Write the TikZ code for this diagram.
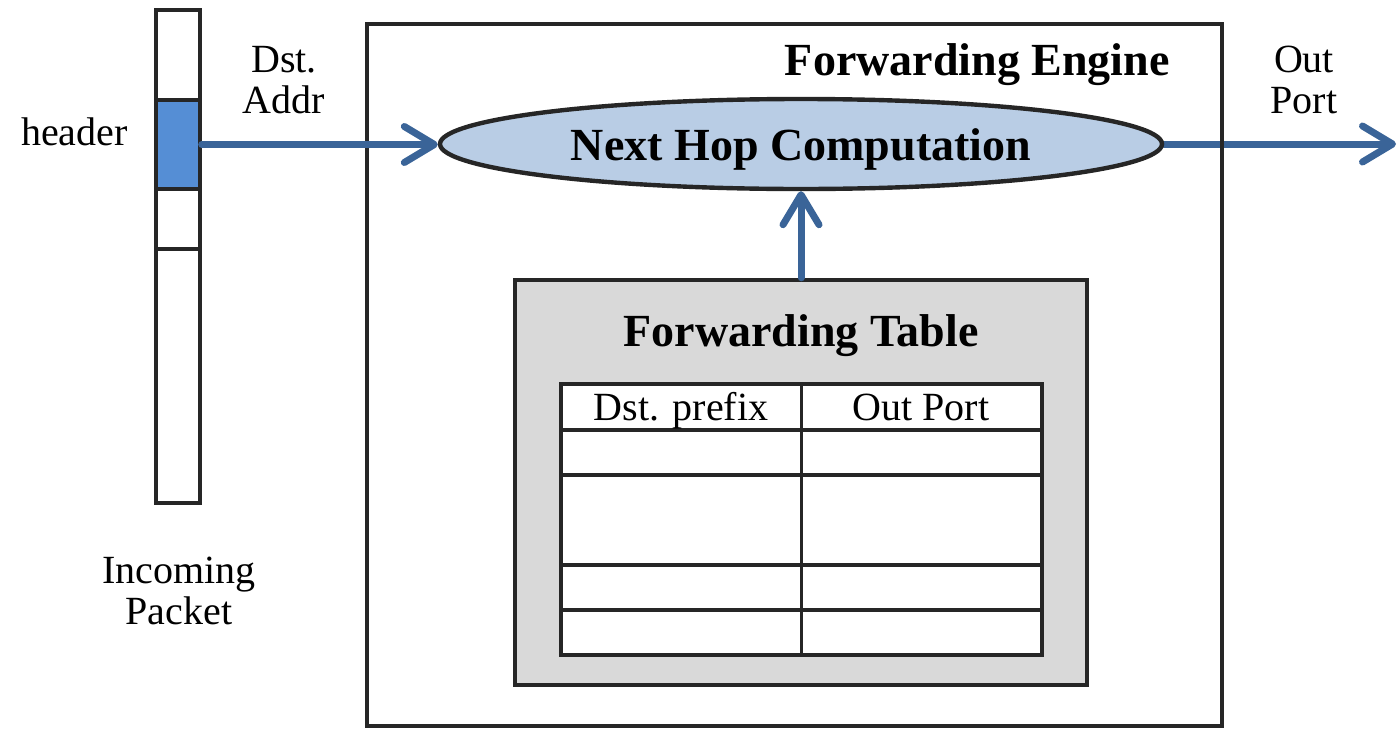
\documentclass[tikz,border=0pt]{standalone}
\usepackage{fontspec}
\setmainfont{Liberation Serif}
\usetikzlibrary{arrows.meta,shapes.geometric,fit,backgrounds}
\definecolor{edge}{HTML}{262626}
\definecolor{hdrblue}{HTML}{558ED5}
\definecolor{ovalblue}{HTML}{B9CDE5}
\definecolor{flow}{HTML}{3A6498}
\definecolor{tablegray}{HTML}{D9D9D9}

\begin{document}
\begin{tikzpicture}[x=0.5pt,y=-0.5pt,
  box/.style={draw=edge, line width=2.2pt, inner sep=0pt},
  cellbox/.style={draw=edge, line width=1.7pt, inner sep=0pt},
  gridline/.style={draw=edge, line width=1.6pt},
  flowarrow/.style={draw=flow, line width=3.5pt, line cap=round,
    -{Straight Barb[length=15pt,width=18pt,round]}},
  lbl/.style={font=\fontsize{20}{22}\selectfont, inner sep=0pt},
  title/.style={font=\bfseries\fontsize{23}{26}\selectfont, inner sep=0pt}]

\useasboundingbox (0,0) rectangle (1400,728);

% incoming packet
\node[cellbox, fit={(156,10) (200,100)}] (p1) {};
\node[cellbox, fill=hdrblue, fit={(156,100) (200,189)}] (hdr) {};
\node[cellbox, fit={(156,189) (200,249)}] (p3) {};
\node[cellbox, fit={(156,249) (200,503)}] (p4) {};
\node[lbl, anchor=base east] (hdrlbl) at (128,145) {header};
\node[lbl, anchor=base] (inc1) at (179,583) {Incoming};
\node[lbl, anchor=base] (inc2) at (179,624) {Packet};

% forwarding engine
\node[box, fit={(367,24) (1222,726)}] (fe) {};
\node[title, anchor=base east] (fetitle) at (1170,75) {Forwarding Engine};
\node[draw=edge, line width=2.2pt, fill=ovalblue, ellipse, inner sep=0pt,
      minimum width=361pt, minimum height=45pt, title,
      text height=16pt, text depth=0pt] (nh) at (801,144)
      {Next Hop Computation};

% forwarding table
\node[box, fill=tablegray, fit={(515,280) (1087,685)}] (ft) {};
\node[title, anchor=base] (fttitle) at (801,346) {Forwarding Table};
\node[cellbox, fill=white, fit={(561,384) (1042,655)}] (tbl) {};
\foreach \r in {430,475,565,610}
  \draw[gridline] (561,\r) -- (1042,\r);
\draw[gridline] (tbl.north) -- (tbl.south);
\node[lbl, anchor=base] (col1) at (681,420) {Dst. prefix};
\node[lbl, anchor=base] (col2) at (921,420) {Out Port};

% labels on the flow
\node[lbl, anchor=base] (dst1) at (284,72) {Dst.};
\node[lbl, anchor=base] (dst2) at (284,113) {Addr};
\node[lbl, anchor=base] (out1) at (1304,72) {Out};
\node[lbl, anchor=base] (out2) at (1304,113) {Port};
\coordinate (outtip) at (1396,144);

% flows
\draw[flowarrow] (hdr.east) -- (hdr.east -| nh.west);
\draw[flowarrow] (ft.north) -- (nh.south);
\begin{scope}[on background layer]
  \draw[flowarrow] (nh.east) -- (outtip);
\end{scope}
\end{tikzpicture}
\end{document}
